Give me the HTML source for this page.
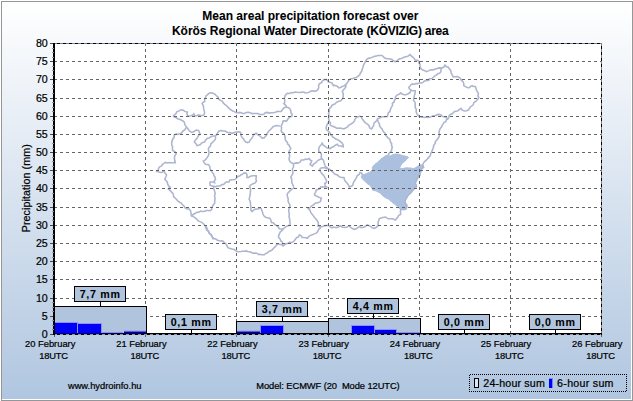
<!DOCTYPE html><html><head><meta charset="utf-8"><title>Mean areal precipitation forecast</title>
<style>html,body{margin:0;padding:0;background:#fff;}body{width:633px;height:401px;overflow:hidden;}svg{display:block;}text{font-family:"Liberation Sans",sans-serif;fill:#000;stroke:#000;stroke-width:0.22px;}</style></head><body>
<svg width="633" height="401" viewBox="0 0 633 401">
<defs><linearGradient id="bg" x1="0" y1="0" x2="0" y2="1"><stop offset="0" stop-color="#ffffff"/><stop offset="1" stop-color="#b0c6e0"/></linearGradient></defs>
<rect x="0" y="0" width="633" height="401" fill="#ffffff"/>
<rect x="1" y="1" width="632" height="400" fill="#969696"/>
<rect x="2" y="2" width="630" height="398" fill="#ffffff"/>
<rect x="2" y="2" width="629" height="397" fill="url(#bg)"/>
<rect x="54" y="43" width="548" height="292" fill="#ffffff"/>
<g fill="none" stroke="#adb5cf" stroke-width="1.55" stroke-linejoin="miter" stroke-linecap="butt">
<polygon points="388.6,155.0 389.8,156.2 391.9,155.0 394.2,154.3 396.3,154.0 398.2,154.3 399.9,154.6 401.2,155.2 403.2,155.6 405.1,156.1 407.7,156.7 408.6,157.6 406.8,158.7 405.7,160.7 404.3,161.8 402.3,163.2 401.0,165.1 399.8,167.4 400.4,168.2 402.6,168.6 404.6,168.1 407.0,167.8 409.0,168.0 410.5,167.9 412.8,168.5 415.0,168.2 416.1,167.3 417.9,166.2 419.2,165.4 421.0,164.8 422.7,164.8 423.6,167.5 421.9,169.1 420.9,171.1 420.5,173.3 419.8,175.6 418.3,177.6 417.0,179.5 416.1,181.3 415.3,183.5 416.1,185.3 416.4,186.8 414.8,188.3 413.6,189.6 412.2,191.6 410.8,193.0 409.3,194.5 407.5,196.3 406.7,198.0 405.2,200.3 405.2,203.1 406.0,204.7 406.9,205.9 406.3,208.7 404.4,208.9 403.0,209.2 400.7,209.5 399.2,208.4 398.5,207.0 397.3,206.2 395.7,205.3 394.3,203.8 392.3,202.5 391.2,201.4 389.8,200.2 388.4,199.1 387.0,198.5 385.0,197.4 383.4,196.3 381.7,194.9 380.8,193.2 379.0,192.6 376.9,191.3 375.2,190.7 372.9,190.4 371.8,188.1 370.9,186.8 370.1,185.3 368.3,184.4 367.3,183.6 365.7,182.0 364.0,180.4 362.8,179.4 361.2,176.9 362.3,174.9 363.9,174.6 366.2,173.8 367.6,172.9 369.6,172.4 370.9,171.3 372.4,169.6 372.3,167.9 372.9,166.3 374.3,165.2 375.7,163.5 377.7,162.4 379.1,160.7 380.6,159.2 382.5,157.8 384.0,157.0 385.8,155.6 388.6,155.0" fill="#abbfdf" stroke="#abbfdf" stroke-width="1"/>
<polyline points="173.0,116.3 175.1,114.4 176.0,113.5 176.8,111.9 178.6,111.1 179.7,110.4 181.5,109.7 183.2,110.2 184.7,111.4 187.3,112.0 186.9,113.8 187.8,115.8 189.1,115.9 190.8,115.8 192.9,115.0 193.8,113.7 194.8,115.8 196.7,115.8 198.8,114.9 200.4,115.4 202.9,115.4 204.2,114.6 204.6,112.6 203.9,109.7 203.5,107.8 203.5,106.2 202.1,103.6 202.9,102.6 204.8,101.3 204.6,98.8 205.6,97.5 206.1,95.7 207.4,94.8 209.1,93.1 211.2,92.7 212.5,93.0 215.2,94.3 216.1,95.5 218.2,97.1 218.9,99.4 221.0,100.6 222.4,101.4 223.2,102.9 224.8,104.4 226.4,105.5 228.3,107.6 230.3,109.5 231.2,109.9 232.7,111.1 233.9,111.4 236.2,112.8 238.0,112.6 240.7,112.6 242.3,113.2 243.6,113.7 246.3,112.5 248.3,112.2 250.2,112.7 252.3,113.6 254.8,113.5 256.3,113.5 257.9,113.6 259.6,114.5 262.0,114.5 263.8,114.2 265.2,112.7 267.2,112.4 269.4,113.1 271.2,112.8 272.9,112.7 274.2,112.4 275.6,112.2 277.5,111.3 278.8,111.4 281.2,111.5 282.2,110.0 283.8,108.0 286.4,107.1 285.7,105.3 283.8,103.7 284.6,102.6 284.8,100.0 284.3,98.4 284.9,96.3 285.9,94.5 287.3,93.2 289.4,93.5 291.7,92.6 293.4,92.7 295.2,92.0 296.9,92.2 300.4,92.4 302.1,92.0 304.2,92.2 305.2,92.9 307.4,92.8 308.9,92.4 310.9,91.1 313.6,90.8 314.8,91.4 317.0,90.6 318.2,88.8 318.7,87.9 318.6,85.3 319.6,83.6 321.6,82.7 322.0,81.4 324.0,79.6 326.6,79.6 328.3,81.8 330.7,82.5 331.8,82.7 332.5,84.3 333.6,85.8 334.8,85.3 337.1,86.2 338.8,87.9 341.2,87.3 342.3,86.2 344.1,85.9 345.8,84.4 346.9,83.3 348.6,80.8 349.3,79.6 350.7,78.8 352.4,78.7 354.2,77.9 356.3,77.5 357.5,76.7 359.8,74.8 360.5,72.7 361.7,71.3 362.4,68.7 362.9,67.2 363.7,64.6 364.8,62.9 365.9,60.4 366.9,59.3 368.7,58.1 369.9,58.3 372.5,57.1 373.8,56.5 376.3,56.1 377.7,55.5 379.7,55.5 382.1,55.5 383.6,57.0 384.4,57.8 386.4,58.8 387.8,58.7 390.3,59.1 391.7,59.3 393.5,60.8 395.2,61.6 397.2,60.6 398.2,59.7 399.5,58.8 401.6,58.4 403.5,57.4 405.6,56.7 407.8,56.3 410.0,54.6 412.0,56.6 413.5,57.6 415.2,59.9 417.6,60.2 418.7,61.1 419.2,63.5 420.0,64.1 420.0,66.3 420.6,68.0 422.2,69.8 423.8,70.3 426.6,71.6 428.2,70.9 431.0,69.8 433.4,70.0 434.6,69.3 437.1,68.6 439.5,67.9 441.4,68.1 443.7,67.3 444.9,65.1 446.3,66.8 448.4,67.2 449.1,68.6 450.8,70.6 451.0,71.6 451.2,73.3 452.4,75.0 453.1,77.0 454.7,76.8 457.5,76.5 459.2,77.3 460.4,78.5 460.9,79.7 462.7,81.3 463.7,83.1 463.8,85.5 465.3,86.6 467.9,87.7 469.7,87.5 470.4,86.3 472.3,85.7 473.2,86.5 475.4,86.6 475.8,87.8 476.7,90.6 477.5,91.8 478.4,93.4 477.9,96.3 478.9,97.6 477.4,99.8 475.8,101.4 473.9,102.5 473.2,104.9 472.2,105.7 470.6,106.7 469.1,108.9 468.8,109.8 466.8,110.8 464.4,111.0 462.1,110.2 461.0,108.4 458.6,110.2 457.5,111.0 455.7,111.2 454.0,111.9 452.3,113.8 450.5,114.5 449.3,115.4 448.8,117.1 447.9,118.9 446.3,119.8 445.8,121.6 443.9,122.5 443.0,124.1 442.0,125.7 441.5,127.0 440.3,128.4 439.4,130.4 439.2,131.5 439.1,133.3 439.4,135.8 438.4,138.0 436.8,140.0 435.3,141.8 435.3,143.2 433.6,145.6 433.4,147.5 432.4,150.1 431.8,151.7 430.8,153.4 430.3,155.8 429.2,156.9 427.5,158.8 426.6,160.0 424.8,161.3 423.6,162.8 422.7,164.8 423.6,167.5 421.6,168.8 420.9,171.1 419.7,173.7 419.8,175.6 418.1,177.1 417.0,179.5 415.6,182.0 415.3,183.5 416.4,185.4 416.4,186.8 414.7,187.8 413.6,189.6 411.9,191.2 410.8,193.0 408.7,194.6 407.5,196.3 406.0,198.9 405.2,200.3 405.2,203.1 406.7,204.6 406.9,205.9 406.3,208.7 404.3,209.6 403.0,209.2 400.7,209.8 400.4,211.9 400.7,214.4 398.6,215.6 397.9,217.1 396.5,218.6 395.2,220.0 392.6,218.8 390.0,218.8 388.3,218.8 386.3,217.6 385.6,217.1 382.9,217.4 381.3,217.9 379.4,218.6 378.7,220.6 378.1,222.0 378.2,224.1 377.8,225.8 376.4,227.3 374.3,228.4 372.9,228.1 370.8,226.7 368.9,225.6 367.3,224.9 366.5,225.3 364.7,226.8 362.9,227.5 360.5,227.4 359.4,226.3 358.2,227.5 356.3,228.7 354.2,229.3 352.0,228.2 350.7,227.4 349.0,225.8 347.2,227.1 344.6,227.5 342.5,227.2 340.2,225.8 338.5,227.1 336.2,227.8 333.6,227.1 331.8,227.8 329.5,226.3 328.3,225.2 326.0,225.8 324.8,225.5 322.7,226.4 320.5,226.9 319.8,228.6 318.8,229.1 317.9,231.3 316.6,232.9 314.4,233.9 312.2,234.8 310.0,235.6 308.9,236.3 307.4,238.3 306.0,237.7 303.3,237.4 302.1,237.4 301.1,235.7 299.5,234.8 298.5,236.8 296.9,237.4 295.7,238.7 294.5,240.5 293.4,241.7 291.7,242.5 289.5,242.3 287.3,243.5 285.3,244.0 284.7,245.0 282.9,246.1 281.7,244.6 280.3,244.4 277.9,244.1 276.8,244.4 275.6,246.4 274.2,247.6 272.5,249.6 270.8,250.7 268.9,251.4 267.2,253.1 266.0,253.2 264.4,254.8 262.0,254.8 259.6,254.3 258.9,254.6 256.7,253.2 255.0,253.1 252.8,253.3 250.9,252.3 249.5,251.7 247.3,251.6 246.7,250.9 244.3,251.2 242.8,251.2 240.9,251.5 238.0,251.8 236.4,251.2 234.2,249.5 232.1,249.1 229.2,248.2 227.7,247.4 226.8,245.4 226.0,243.9 223.7,242.1 222.5,240.7 220.5,240.9 218.3,240.6 217.2,240.0 215.5,238.8 212.9,238.7 212.6,237.5 211.7,235.5 210.2,234.3 208.9,232.7 208.6,231.5 206.7,229.9 205.7,227.6 205.0,225.6 202.9,223.2 201.5,222.1 199.2,221.4 197.7,220.4 196.3,218.6 194.4,217.4 193.2,216.4 191.6,216.0 191.1,214.9 191.0,212.5 190.7,211.2 189.3,209.0 187.3,208.9 184.9,207.6 184.2,206.2 182.3,204.6 181.1,202.8 179.7,202.2 177.9,201.1 176.8,199.8 174.7,197.5 173.6,196.7 173.3,194.0 171.8,192.4 170.0,190.4 168.3,188.9 170.1,187.1 168.5,185.7 167.5,183.7 167.3,181.9 165.9,180.5 164.8,179.3 165.8,177.0 166.6,174.9 164.8,172.7 164.0,171.4 161.4,172.4 159.6,172.3 157.8,171.5 156.1,171.4 158.0,170.8 158.6,168.3 159.6,166.9 161.3,166.2 162.5,164.4 163.9,163.3 165.7,162.4 167.6,163.0 169.6,162.5 171.0,162.7 173.0,162.7 175.3,162.7 174.7,160.3 174.4,158.3 174.7,155.8 176.2,154.0 175.1,151.7 172.7,150.5 172.4,148.9 172.6,146.6 171.8,145.2 171.7,142.9 172.1,141.3 172.5,139.4 174.0,137.7 174.2,135.0 176.5,133.9 177.0,134.4 180.0,133.7 181.2,133.3 183.1,130.9 184.7,129.8 185.4,129.0 186.4,127.1 186.0,126.3 184.7,124.5 184.5,122.4 182.9,121.0 180.6,119.7 179.4,119.3 177.7,118.7 176.0,117.5 175.1,117.2 173.0,116.3"/>
<polyline points="205.8,225.6 206.9,228.1 207.5,229.9 208.6,231.4 209.2,233.2 211.0,234.3 212.0,236.9 213.7,238.4"/>
<polyline points="186.4,127.1 187.9,128.6 189.0,130.6 189.8,131.2 191.7,132.4 193.6,131.8 195.2,130.6 196.4,130.0 198.7,130.6 199.4,132.5 200.0,134.1 198.8,135.2 198.1,136.3 196.9,138.5 195.3,140.2 194.3,142.0 196.2,144.0 196.9,145.5 199.2,145.0 200.4,144.6 201.8,142.8 204.5,142.0 205.6,140.2 207.1,138.4 209.1,138.1 210.9,136.7 212.9,136.0 215.2,135.9 216.8,134.7 217.9,132.4 219.3,130.8 221.4,130.6 222.9,131.0 225.1,131.1 226.6,132.0 228.7,132.8 230.1,132.5 231.8,133.3 234.7,132.4 236.2,132.0 238.8,131.8 240.6,132.4 240.8,134.5 241.4,136.5 242.3,137.6 243.5,138.6 244.2,140.4 245.8,142.0 247.8,142.6 249.3,142.0 250.0,140.1 251.2,139.1 252.8,136.7 254.0,134.4 256.3,133.3 257.4,134.5 259.8,135.9 261.5,137.5 262.0,138.1 264.1,137.9 265.5,136.3 267.0,134.6 266.8,134.0 268.1,132.0 269.7,130.0 270.7,129.4 272.2,127.7 273.3,126.4 274.9,126.0 276.3,125.5 278.2,125.8 280.3,125.9"/>
<polyline points="286.4,107.1 288.5,107.7 290.0,109.0 290.8,110.6 291.0,112.8 292.1,114.0 292.0,115.9 289.5,117.2 288.2,118.5 287.1,120.4 286.4,121.1 284.2,120.9 282.9,121.1 282.9,122.2 281.6,125.1 281.2,126.4 281.6,128.1 281.2,131.1 281.7,132.0 284.1,133.7 284.7,135.5 285.3,137.8 285.1,138.6 285.6,140.7 287.4,142.3 287.5,143.9 289.0,145.1 289.6,146.5 290.8,148.6 289.2,151.1 289.0,152.9 289.6,155.1 289.6,156.3 289.0,159.0 289.5,160.7 290.8,162.5 293.4,163.8 293.6,166.9 292.5,168.7 292.6,170.5 293.1,173.0 291.9,175.2 290.8,177.4 291.7,178.7 291.8,181.2 291.7,182.6 292.9,184.7 293.3,185.9 293.8,187.9 292.0,188.9 290.8,190.2 289.4,191.4 287.3,193.7 287.2,195.8 287.5,196.6 288.2,199.0 288.0,200.8 288.8,203.2 290.0,204.9 289.9,206.0 289.3,207.7 288.7,210.6 289.0,212.9 289.4,214.6 288.9,216.3 289.6,218.4 289.6,219.9 290.0,222.2 290.0,222.9 289.9,225.2 288.2,225.8 285.6,226.9 284.3,228.0 282.9,229.5 282.1,230.5 280.2,232.1 279.4,233.9 278.5,236.2 278.6,237.4 279.9,238.6 280.8,241.0 282.1,241.7 282.5,243.1 282.9,245.2"/>
<polyline points="215.2,135.9 215.6,137.9 215.2,139.4 214.5,140.3 212.3,142.7 210.9,143.7 210.5,146.0 209.1,147.2 208.4,148.6 208.5,150.1 209.0,152.2 208.9,154.3 208.1,156.1 206.7,158.3 205.5,159.6 203.3,161.0 204.3,163.1 205.9,164.4 208.3,164.5 209.4,165.8 210.1,167.6 210.1,168.8 211.1,170.6 211.9,171.9 213.7,174.0 214.0,175.9 215.1,177.1 215.5,179.3 214.4,180.8 214.6,182.8 212.6,181.9 210.2,181.9 209.9,183.2 210.2,185.4 212.4,185.9 213.7,186.3 213.5,187.8 214.4,190.4 215.0,192.4 215.2,193.6 214.5,196.2 214.9,197.3 215.0,199.4 214.6,201.8 214.8,203.0 213.6,204.5 212.7,205.7 212.0,207.2 211.6,209.6 210.2,210.7 208.1,210.4 206.7,210.4 203.7,211.5 202.4,211.5 200.6,211.1 198.7,212.4 197.1,212.1 195.4,213.3 192.8,214.7 191.6,216.0"/>
<polyline points="213.7,186.3 215.6,186.7 216.6,186.2 218.8,185.9 220.7,185.7 221.7,184.4 223.7,184.4 225.1,182.8 226.3,182.0 229.0,182.0 229.9,180.0 232.1,179.8 234.9,179.6 236.4,178.1 237.8,176.4 239.9,175.8 240.8,174.9 242.7,174.2 243.4,173.2 245.4,172.9 246.4,173.5 247.1,175.1 246.9,177.5 248.5,177.4 250.4,176.3 252.8,175.7 253.9,175.8 256.2,175.8 256.3,177.4 255.9,178.9 256.5,181.0 255.1,182.9 253.0,183.7 250.6,185.1 249.5,186.3 250.2,187.7 250.6,189.8 250.4,192.4 250.2,194.2 250.0,195.6 249.4,197.8 249.2,199.4 250.4,202.0 250.5,204.3 250.7,206.0 250.9,208.1 250.8,210.0 252.1,211.6 253.8,209.9 255.6,209.0 258.2,208.9 260.0,208.1 261.1,208.6 261.6,209.9 262.3,211.5 262.9,213.8 263.7,215.5 265.5,217.3 267.1,217.7 269.8,218.2 270.7,219.7 271.6,222.5 273.3,222.8 274.9,224.7 276.0,225.2 277.7,226.3 279.4,228.7 281.2,228.9 282.9,229.5"/>
<polyline points="293.4,163.8 296.2,162.9 297.8,163.1 300.0,162.2 301.3,159.9 303.8,159.9 305.6,159.0 306.9,159.4 309.1,158.5 310.4,160.3 311.7,160.8 311.4,162.1 310.0,164.3 311.7,165.8 312.6,166.0 313.3,164.3 315.2,163.1 317.3,161.0 318.7,159.9 321.0,159.1 322.2,159.0 323.5,160.3 324.0,162.5 324.9,165.3 325.7,166.9 326.6,167.5 328.3,168.7 330.1,169.7 331.8,171.3 332.9,172.0 334.9,174.2 337.1,174.8 338.8,176.2 339.5,176.9 341.4,177.4 344.0,177.4 344.4,179.6 345.8,181.7 347.2,183.3 348.7,185.3 349.3,187.0 351.9,186.1 352.9,184.9 353.1,183.3 354.5,180.9 355.6,179.1 356.7,177.2 357.2,175.8 359.3,174.2 360.0,172.4 361.7,173.0 362.3,174.9"/>
<polyline points="345.8,84.4 345.8,87.1 344.4,88.9 343.4,89.5 342.3,91.4 342.9,92.5 343.3,94.6 343.2,96.7 342.5,98.8 341.6,99.8 340.6,101.0 338.6,101.2 336.4,102.3 335.3,103.7 333.7,104.5 331.8,105.4 331.0,107.4 329.6,108.0 329.2,109.8 329.4,111.2 328.5,113.7 329.2,115.9 328.6,117.4 328.8,119.5 329.2,121.1 328.5,122.2 327.6,124.0 326.6,125.5 326.1,128.3 326.6,129.8 328.0,130.9 330.1,132.9 330.4,134.5 332.4,136.2 332.7,137.2 334.3,137.7 335.5,139.1 337.9,139.8 339.5,140.8 341.0,142.1 342.3,143.3 343.4,145.4 343.2,146.8 340.6,146.0 338.5,145.7 337.1,144.2 334.7,145.5 333.6,146.8 331.7,147.3 330.1,148.6 327.3,148.1 325.7,146.8 323.3,145.1 322.2,143.3 321.4,144.5 319.3,146.8 318.7,148.7 318.9,150.5 318.7,152.1 320.4,152.5 321.3,153.8 321.3,155.3 321.3,157.8 322.2,159.0"/>
<polyline points="329.2,121.1 330.5,123.0 330.2,124.8 331.8,126.0 333.9,126.8 335.7,127.5 337.1,128.4 339.0,128.0 341.3,128.2 344.0,129.0 345.2,128.2 347.2,127.2 348.4,125.5 350.2,124.3 351.4,123.7 352.8,122.9 354.4,121.2 354.8,119.6 356.3,117.6 358.7,116.5 359.8,116.2 361.5,116.9 361.8,118.5 363.3,120.2 364.7,122.2 365.5,122.9 367.4,124.2 369.1,125.7 369.7,128.0 371.6,129.0 372.6,127.2 373.6,125.6 374.2,122.9 375.3,121.9 376.8,120.5 377.7,118.5 379.3,118.2 381.3,117.0 382.9,116.7 384.7,116.8 387.3,116.5 387.6,115.5 388.5,112.6 389.9,111.7 390.2,110.3 391.4,107.1 392.5,105.6 392.4,103.2 394.0,102.3 394.3,100.4 395.4,99.0 395.4,97.0 396.9,95.1 398.6,94.5 400.7,93.0 403.2,94.4 404.8,94.8 405.9,94.8 408.3,93.7 410.2,92.4 410.9,89.9"/>
<polyline points="377.7,118.5 377.6,119.8 378.0,121.3 379.5,124.2 379.4,125.5 380.8,127.7 381.9,128.7 382.9,130.7 383.2,131.6 385.1,133.2 385.6,135.1 386.8,136.4 387.8,137.6 389.9,139.4 390.5,141.9 391.7,143.8 391.5,145.3 392.3,147.3 391.7,149.0 391.6,150.7 390.5,152.0 388.9,153.4 388.6,155.0"/>
<polyline points="441.4,68.1 440.9,70.6 440.6,72.4 438.9,73.6 437.7,73.8 436.2,75.1 435.2,75.7 433.7,77.0 431.8,78.6 429.4,78.7 428.7,80.4 426.6,80.3 424.2,81.2 423.1,82.4 421.4,82.9 419.2,83.1 417.7,83.7 416.1,83.4 414.0,84.5 412.3,83.9 410.9,84.7 410.1,86.0 408.8,87.3 409.3,88.8 410.9,89.9 412.5,90.8 415.2,90.8 415.1,93.4 414.4,95.1 414.3,96.7 413.7,98.5 413.5,100.4 414.6,101.6 415.2,103.2 415.2,105.6 415.1,107.3 416.4,109.7 416.1,111.7 416.8,113.7 417.5,114.6 418.7,116.1 420.8,116.9 423.1,117.2 424.8,117.5 426.3,117.0 427.8,117.4 430.3,117.0 431.8,116.4 433.1,115.8 435.7,115.5 436.5,114.8 438.8,114.4 441.1,115.0 442.3,116.4 445.2,117.1 446.1,117.7 447.9,118.9"/>
<polyline points="328.3,168.7 326.8,168.7 324.8,167.8 322.2,167.8 320.4,168.4 319.6,170.0 320.5,171.7 322.2,173.9 323.5,175.2 324.8,177.4 325.5,178.7 326.6,180.9 326.4,182.5 324.8,183.5 325.1,185.9 326.6,187.0 324.0,187.0 321.7,186.8 320.5,187.0 319.9,188.7 317.9,189.6 316.1,190.2 315.6,192.3 314.4,194.6 315.4,195.7 316.7,195.9 318.7,197.2 321.4,198.1 320.8,199.2 320.5,201.6 318.6,202.6 317.2,202.7 315.2,203.3 314.0,204.4 311.8,205.8 310.9,206.8 309.5,208.0 308.3,208.6 310.0,210.2 310.7,212.4 311.7,213.8 312.8,214.9 314.3,217.3 315.2,218.2 316.9,220.2 317.9,221.7 318.4,224.1 317.9,226.0 320.5,226.9"/>
</g>
<g shape-rendering="crispEdges" stroke="#646464" stroke-width="1" stroke-dasharray="3 3" fill="none">
<line x1="54" y1="316.5" x2="601" y2="316.5"/>
<line x1="54" y1="298.5" x2="601" y2="298.5"/>
<line x1="54" y1="279.5" x2="601" y2="279.5"/>
<line x1="54" y1="261.5" x2="601" y2="261.5"/>
<line x1="54" y1="243.5" x2="601" y2="243.5"/>
<line x1="54" y1="225.5" x2="601" y2="225.5"/>
<line x1="54" y1="207.5" x2="601" y2="207.5"/>
<line x1="54" y1="188.5" x2="601" y2="188.5"/>
<line x1="54" y1="170.5" x2="601" y2="170.5"/>
<line x1="54" y1="152.5" x2="601" y2="152.5"/>
<line x1="54" y1="134.5" x2="601" y2="134.5"/>
<line x1="54" y1="116.5" x2="601" y2="116.5"/>
<line x1="54" y1="98.5" x2="601" y2="98.5"/>
<line x1="54" y1="79.5" x2="601" y2="79.5"/>
<line x1="54" y1="61.5" x2="601" y2="61.5"/>
<line x1="145.5" y1="43" x2="145.5" y2="334"/>
<line x1="236.5" y1="43" x2="236.5" y2="334"/>
<line x1="328.5" y1="43" x2="328.5" y2="334"/>
<line x1="419.5" y1="43" x2="419.5" y2="334"/>
<line x1="510.5" y1="43" x2="510.5" y2="334"/>
</g>
<g shape-rendering="crispEdges" fill="none" stroke-width="1">
<line x1="54" y1="43.5" x2="602" y2="43.5" stroke="#000"/>
<line x1="54" y1="43.5" x2="602" y2="43.5" stroke="#808080" stroke-dasharray="3 3"/>
<line x1="601.5" y1="43" x2="601.5" y2="335" stroke="#000"/>
<line x1="601.5" y1="43" x2="601.5" y2="335" stroke="#808080" stroke-dasharray="3 3"/>
</g>
<g shape-rendering="crispEdges">
<rect x="54.5" y="306.5" width="92" height="28" fill="#b0c4de" stroke="#000" stroke-width="1"/>
<rect x="236.5" y="321.5" width="93" height="13" fill="#b0c4de" stroke="#000" stroke-width="1"/>
<rect x="328.5" y="318.5" width="92" height="16" fill="#b0c4de" stroke="#000" stroke-width="1"/>
</g>
<g shape-rendering="crispEdges">
<rect x="53" y="333" width="549" height="2" fill="#000"/>
<line x1="54" y1="334.5" x2="601" y2="334.5" stroke="#8e96a6" stroke-width="1" stroke-dasharray="3 3"/>
<rect x="53" y="43" width="2" height="292" fill="#000"/>
<rect x="52" y="329" width="2" height="1" fill="#8a8f98"/>
<rect x="52" y="325" width="2" height="1" fill="#8a8f98"/>
<rect x="52" y="320" width="2" height="1" fill="#8a8f98"/>
<rect x="52" y="311" width="2" height="1" fill="#8a8f98"/>
<rect x="52" y="307" width="2" height="1" fill="#8a8f98"/>
<rect x="52" y="302" width="2" height="1" fill="#8a8f98"/>
<rect x="52" y="293" width="2" height="1" fill="#8a8f98"/>
<rect x="52" y="289" width="2" height="1" fill="#8a8f98"/>
<rect x="52" y="284" width="2" height="1" fill="#8a8f98"/>
<rect x="52" y="275" width="2" height="1" fill="#8a8f98"/>
<rect x="52" y="270" width="2" height="1" fill="#8a8f98"/>
<rect x="52" y="266" width="2" height="1" fill="#8a8f98"/>
<rect x="52" y="257" width="2" height="1" fill="#8a8f98"/>
<rect x="52" y="252" width="2" height="1" fill="#8a8f98"/>
<rect x="52" y="248" width="2" height="1" fill="#8a8f98"/>
<rect x="52" y="239" width="2" height="1" fill="#8a8f98"/>
<rect x="52" y="234" width="2" height="1" fill="#8a8f98"/>
<rect x="52" y="229" width="2" height="1" fill="#8a8f98"/>
<rect x="52" y="220" width="2" height="1" fill="#8a8f98"/>
<rect x="52" y="216" width="2" height="1" fill="#8a8f98"/>
<rect x="52" y="211" width="2" height="1" fill="#8a8f98"/>
<rect x="52" y="202" width="2" height="1" fill="#8a8f98"/>
<rect x="52" y="198" width="2" height="1" fill="#8a8f98"/>
<rect x="52" y="193" width="2" height="1" fill="#8a8f98"/>
<rect x="52" y="184" width="2" height="1" fill="#8a8f98"/>
<rect x="52" y="179" width="2" height="1" fill="#8a8f98"/>
<rect x="52" y="175" width="2" height="1" fill="#8a8f98"/>
<rect x="52" y="166" width="2" height="1" fill="#8a8f98"/>
<rect x="52" y="161" width="2" height="1" fill="#8a8f98"/>
<rect x="52" y="157" width="2" height="1" fill="#8a8f98"/>
<rect x="52" y="148" width="2" height="1" fill="#8a8f98"/>
<rect x="52" y="143" width="2" height="1" fill="#8a8f98"/>
<rect x="52" y="138" width="2" height="1" fill="#8a8f98"/>
<rect x="52" y="129" width="2" height="1" fill="#8a8f98"/>
<rect x="52" y="125" width="2" height="1" fill="#8a8f98"/>
<rect x="52" y="120" width="2" height="1" fill="#8a8f98"/>
<rect x="52" y="111" width="2" height="1" fill="#8a8f98"/>
<rect x="52" y="107" width="2" height="1" fill="#8a8f98"/>
<rect x="52" y="102" width="2" height="1" fill="#8a8f98"/>
<rect x="52" y="93" width="2" height="1" fill="#8a8f98"/>
<rect x="52" y="88" width="2" height="1" fill="#8a8f98"/>
<rect x="52" y="84" width="2" height="1" fill="#8a8f98"/>
<rect x="52" y="75" width="2" height="1" fill="#8a8f98"/>
<rect x="52" y="70" width="2" height="1" fill="#8a8f98"/>
<rect x="52" y="66" width="2" height="1" fill="#8a8f98"/>
<rect x="52" y="57" width="2" height="1" fill="#8a8f98"/>
<rect x="52" y="52" width="2" height="1" fill="#8a8f98"/>
<rect x="52" y="48" width="2" height="1" fill="#8a8f98"/>
<rect x="50" y="334" width="3" height="1" fill="#4a4a4a"/>
<rect x="50" y="316" width="3" height="1" fill="#4a4a4a"/>
<rect x="50" y="298" width="3" height="1" fill="#4a4a4a"/>
<rect x="50" y="279" width="3" height="1" fill="#4a4a4a"/>
<rect x="50" y="261" width="3" height="1" fill="#4a4a4a"/>
<rect x="50" y="243" width="3" height="1" fill="#4a4a4a"/>
<rect x="50" y="225" width="3" height="1" fill="#4a4a4a"/>
<rect x="50" y="207" width="3" height="1" fill="#4a4a4a"/>
<rect x="50" y="188" width="3" height="1" fill="#4a4a4a"/>
<rect x="50" y="170" width="3" height="1" fill="#4a4a4a"/>
<rect x="50" y="152" width="3" height="1" fill="#4a4a4a"/>
<rect x="50" y="134" width="3" height="1" fill="#4a4a4a"/>
<rect x="50" y="116" width="3" height="1" fill="#4a4a4a"/>
<rect x="50" y="98" width="3" height="1" fill="#4a4a4a"/>
<rect x="50" y="79" width="3" height="1" fill="#4a4a4a"/>
<rect x="50" y="61" width="3" height="1" fill="#4a4a4a"/>
<rect x="50" y="43" width="3" height="1" fill="#4a4a4a"/>
<rect x="54" y="335" width="1" height="2" fill="#5f6671"/>
<rect x="145" y="335" width="1" height="2" fill="#5f6671"/>
<rect x="236" y="335" width="1" height="2" fill="#5f6671"/>
<rect x="328" y="335" width="1" height="2" fill="#5f6671"/>
<rect x="419" y="335" width="1" height="2" fill="#5f6671"/>
<rect x="510" y="335" width="1" height="2" fill="#5f6671"/>
<rect x="601" y="335" width="1" height="2" fill="#5f6671"/>
</g>
<g shape-rendering="crispEdges">
<rect x="55" y="323" width="22" height="10" fill="#0000f6"/>
<rect x="55" y="333" width="22" height="1" fill="#000080"/>
<rect x="55" y="322" width="23" height="1" fill="#8f8fff"/>
<rect x="77" y="322" width="1" height="11" fill="#8f8fff"/>
<rect x="78" y="324" width="23" height="9" fill="#0000f6"/>
<rect x="78" y="333" width="23" height="1" fill="#000080"/>
<rect x="77" y="323" width="25" height="1" fill="#8f8fff"/>
<rect x="77" y="323" width="1" height="10" fill="#8f8fff"/>
<rect x="101" y="323" width="1" height="10" fill="#8f8fff"/>
<rect x="102" y="332" width="21" height="1" fill="#8d92d6"/>
<rect x="102" y="333" width="21" height="1" fill="#000070"/>
<rect x="124" y="330" width="22" height="1" fill="#a9aeea"/>
<rect x="124" y="331" width="22" height="1" fill="#5c5ce0"/>
<rect x="124" y="332" width="22" height="1" fill="#000098"/>
<rect x="124" y="333" width="22" height="1" fill="#000058"/>
<rect x="237" y="330" width="23" height="1" fill="#a9aeea"/>
<rect x="237" y="331" width="23" height="1" fill="#5c5ce0"/>
<rect x="237" y="332" width="23" height="1" fill="#000098"/>
<rect x="237" y="333" width="23" height="1" fill="#000058"/>
<rect x="261" y="326" width="22" height="7" fill="#0000f6"/>
<rect x="261" y="333" width="22" height="1" fill="#000080"/>
<rect x="260" y="325" width="24" height="1" fill="#8f8fff"/>
<rect x="260" y="325" width="1" height="8" fill="#8f8fff"/>
<rect x="283" y="325" width="1" height="8" fill="#8f8fff"/>
<rect x="352" y="326" width="22" height="7" fill="#0000f6"/>
<rect x="352" y="333" width="22" height="1" fill="#000080"/>
<rect x="351" y="325" width="24" height="1" fill="#8f8fff"/>
<rect x="351" y="325" width="1" height="8" fill="#8f8fff"/>
<rect x="374" y="325" width="1" height="8" fill="#8f8fff"/>
<rect x="375" y="330" width="21" height="3" fill="#0000f6"/>
<rect x="375" y="333" width="21" height="1" fill="#000080"/>
<rect x="374" y="329" width="23" height="1" fill="#8f8fff"/>
<rect x="374" y="329" width="1" height="4" fill="#8f8fff"/>
<rect x="396" y="329" width="1" height="4" fill="#8f8fff"/>
<rect x="397" y="332" width="23" height="1" fill="#8d92d6"/>
<rect x="397" y="333" width="23" height="1" fill="#000070"/>
</g>
<g shape-rendering="crispEdges">
<rect x="100" y="301" width="1" height="5" fill="#000"/>
<rect x="74.5" y="286.5" width="51" height="15" fill="#b0c4de" stroke="#000" stroke-width="1"/>
<rect x="191" y="329" width="1" height="4" fill="#000"/>
<rect x="165.5" y="314.5" width="51" height="15" fill="#b0c4de" stroke="#000" stroke-width="1"/>
<rect x="282" y="316" width="1" height="5" fill="#000"/>
<rect x="256.5" y="301.5" width="51" height="15" fill="#b0c4de" stroke="#000" stroke-width="1"/>
<rect x="373" y="313" width="1" height="5" fill="#000"/>
<rect x="347.5" y="298.5" width="51" height="15" fill="#b0c4de" stroke="#000" stroke-width="1"/>
<rect x="464" y="329" width="1" height="4" fill="#000"/>
<rect x="438.5" y="314.5" width="51" height="15" fill="#b0c4de" stroke="#000" stroke-width="1"/>
<rect x="555" y="329" width="1" height="4" fill="#000"/>
<rect x="529.5" y="314.5" width="51" height="15" fill="#b0c4de" stroke="#000" stroke-width="1"/>
</g>
<text x="99.8" y="297.6" font-size="10.67" font-weight="bold" style="stroke-width:0.06px" text-anchor="middle" textLength="40.3" lengthAdjust="spacing">7,7 mm</text>
<text x="190.8" y="325.6" font-size="10.67" font-weight="bold" style="stroke-width:0.06px" text-anchor="middle" textLength="40.3" lengthAdjust="spacing">0,1 mm</text>
<text x="281.8" y="312.6" font-size="10.67" font-weight="bold" style="stroke-width:0.06px" text-anchor="middle" textLength="40.3" lengthAdjust="spacing">3,7 mm</text>
<text x="372.8" y="309.6" font-size="10.67" font-weight="bold" style="stroke-width:0.06px" text-anchor="middle" textLength="40.3" lengthAdjust="spacing">4,4 mm</text>
<text x="463.8" y="325.6" font-size="10.67" font-weight="bold" style="stroke-width:0.06px" text-anchor="middle" textLength="40.3" lengthAdjust="spacing">0,0 mm</text>
<text x="554.8" y="325.6" font-size="10.67" font-weight="bold" style="stroke-width:0.06px" text-anchor="middle" textLength="40.3" lengthAdjust="spacing">0,0 mm</text>
<text x="310.4" y="19.7" font-size="12" font-weight="bold" style="stroke-width:0.06px" text-anchor="middle">Mean areal precipitation forecast over</text>
<text x="171.9" y="34.6" font-size="12" font-weight="bold" style="stroke-width:0.06px" textLength="191.3" lengthAdjust="spacing">Körös Regional Water Directorate</text>
<text x="366.5" y="34.6" font-size="12" font-weight="bold" style="stroke-width:0.06px" textLength="82.2" lengthAdjust="spacing">(KÖVIZIG) area</text>
<text x="47.8" y="337.9" font-size="10.67" text-anchor="end">0</text>
<text x="47.8" y="319.7" font-size="10.67" text-anchor="end">5</text>
<text x="47.8" y="301.5" font-size="10.67" text-anchor="end">10</text>
<text x="47.8" y="283.3" font-size="10.67" text-anchor="end">15</text>
<text x="47.8" y="265.1" font-size="10.67" text-anchor="end">20</text>
<text x="47.8" y="247.0" font-size="10.67" text-anchor="end">25</text>
<text x="47.8" y="228.8" font-size="10.67" text-anchor="end">30</text>
<text x="47.8" y="210.6" font-size="10.67" text-anchor="end">35</text>
<text x="47.8" y="192.4" font-size="10.67" text-anchor="end">40</text>
<text x="47.8" y="174.2" font-size="10.67" text-anchor="end">45</text>
<text x="47.8" y="156.0" font-size="10.67" text-anchor="end">50</text>
<text x="47.8" y="137.8" font-size="10.67" text-anchor="end">55</text>
<text x="47.8" y="119.7" font-size="10.67" text-anchor="end">60</text>
<text x="47.8" y="101.5" font-size="10.67" text-anchor="end">65</text>
<text x="47.8" y="83.3" font-size="10.67" text-anchor="end">70</text>
<text x="47.8" y="65.1" font-size="10.67" text-anchor="end">75</text>
<text x="47.8" y="46.9" font-size="10.67" text-anchor="end">80</text>
<text transform="translate(29.6,188.3) rotate(-90)" font-size="10.67" text-anchor="middle" textLength="88" lengthAdjust="spacing">Precipitation (mm)</text>
<text x="50.2" y="346.7" font-size="9.33" text-anchor="middle">20 February</text>
<text x="53.6" y="358.9" font-size="9.33" text-anchor="middle" textLength="28.7" lengthAdjust="spacing">18UTC</text>
<text x="141.4" y="346.7" font-size="9.33" text-anchor="middle">21 February</text>
<text x="144.8" y="358.9" font-size="9.33" text-anchor="middle" textLength="28.7" lengthAdjust="spacing">18UTC</text>
<text x="232.5" y="346.7" font-size="9.33" text-anchor="middle">22 February</text>
<text x="235.9" y="358.9" font-size="9.33" text-anchor="middle" textLength="28.7" lengthAdjust="spacing">18UTC</text>
<text x="323.7" y="346.7" font-size="9.33" text-anchor="middle">23 February</text>
<text x="327.1" y="358.9" font-size="9.33" text-anchor="middle" textLength="28.7" lengthAdjust="spacing">18UTC</text>
<text x="414.9" y="346.7" font-size="9.33" text-anchor="middle">24 February</text>
<text x="418.3" y="358.9" font-size="9.33" text-anchor="middle" textLength="28.7" lengthAdjust="spacing">18UTC</text>
<text x="506.0" y="346.7" font-size="9.33" text-anchor="middle">25 February</text>
<text x="509.4" y="358.9" font-size="9.33" text-anchor="middle" textLength="28.7" lengthAdjust="spacing">18UTC</text>
<text x="597.2" y="346.7" font-size="9.33" text-anchor="middle">26 February</text>
<text x="600.6" y="358.9" font-size="9.33" text-anchor="middle" textLength="28.7" lengthAdjust="spacing">18UTC</text>
<text x="67.9" y="389" font-size="9.33">www.hydroinfo.hu</text>
<text x="256.3" y="389.2" font-size="9.33" xml:space="preserve" textLength="143.4" lengthAdjust="spacing">Model: ECMWF (20  Mode 12UTC)</text>
<g shape-rendering="crispEdges" stroke="#000" stroke-width="1" stroke-dasharray="1 1" fill="none">
<line x1="470" y1="374.5" x2="627" y2="374.5"/>
<line x1="469" y1="391.5" x2="626" y2="391.5"/>
<line x1="469.5" y1="375" x2="469.5" y2="392"/>
<line x1="626.5" y1="374" x2="626.5" y2="391"/>
</g>
<g shape-rendering="crispEdges">
<rect x="474.5" y="378.5" width="4" height="9" fill="#dfe7f3" stroke="#000" stroke-width="1"/>
<rect x="549" y="378" width="4" height="10" fill="#0000f4"/>
<rect x="549" y="378" width="4" height="1" fill="#7d7dff"/>
<rect x="552" y="378" width="1" height="10" fill="#7d7dff"/>
</g>
<text x="483.3" y="386.8" font-size="10.67" textLength="61.5" lengthAdjust="spacing">24-hour sum</text>
<text x="557.1" y="386.8" font-size="10.67" textLength="56.4" lengthAdjust="spacing">6-hour sum</text>
</svg></body></html>
